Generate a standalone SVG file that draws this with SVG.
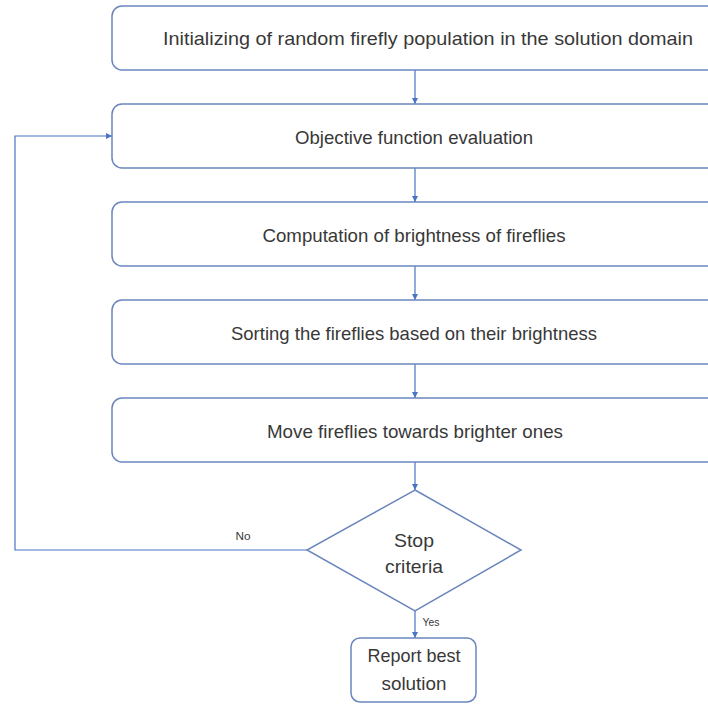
<svg xmlns="http://www.w3.org/2000/svg" width="708" height="704" viewBox="0 0 708 704">
<style>
.box{fill:#fff;stroke:#6a86bd;stroke-width:1.5}
.t{font-family:"Liberation Sans",Arial,sans-serif;font-size:19px;fill:#383838;text-anchor:middle}
.s{font-family:"Liberation Sans",Arial,sans-serif;font-size:11px;fill:#383838;text-anchor:middle}
.c{fill:none;stroke:#4a74c4;stroke-width:1.2}
</style>
<defs>
<marker id="ah" markerWidth="6" markerHeight="6" refX="6" refY="3" orient="auto" markerUnits="userSpaceOnUse">
<path d="M0,0 L6,3 L0,6 z" fill="#4a74c4"/>
</marker>
</defs>
<rect width="708" height="704" fill="#fff"/>
<g id="connectors">
<line class="c" x1="415" y1="70" x2="415" y2="104" marker-end="url(#ah)"/>
<line class="c" x1="415" y1="168" x2="415" y2="202" marker-end="url(#ah)"/>
<line class="c" x1="415" y1="266" x2="415" y2="300" marker-end="url(#ah)"/>
<line class="c" x1="415" y1="364" x2="415" y2="398" marker-end="url(#ah)"/>
<line class="c" x1="415" y1="462" x2="415" y2="490" marker-end="url(#ah)"/>
<line class="c" x1="415" y1="611" x2="415" y2="638" marker-end="url(#ah)"/>
<polyline class="c" points="307,550 15,550 15,136 112,136" marker-end="url(#ah)"/>
<text class="s" x="243" y="540" textLength="15" lengthAdjust="spacingAndGlyphs">No</text>
<text class="s" x="431" y="626" textLength="17" lengthAdjust="spacingAndGlyphs">Yes</text>
</g>
<g id="n1"><rect class="box" x="112" y="6" width="620" height="64" rx="10"/>
<text class="t" x="428" y="45" textLength="530" lengthAdjust="spacingAndGlyphs">Initializing of random firefly population in the solution domain</text></g>
<g id="n2"><rect class="box" x="112" y="104" width="620" height="64" rx="10"/>
<text class="t" x="414" y="144" textLength="238" lengthAdjust="spacingAndGlyphs">Objective function evaluation</text></g>
<g id="n3"><rect class="box" x="112" y="202" width="620" height="64" rx="10"/>
<text class="t" x="414" y="242" textLength="303" lengthAdjust="spacingAndGlyphs">Computation of brightness of fireflies</text></g>
<g id="n4"><rect class="box" x="112" y="300" width="620" height="64" rx="10"/>
<text class="t" x="414" y="340" textLength="366" lengthAdjust="spacingAndGlyphs">Sorting the fireflies based on their brightness</text></g>
<g id="n5"><rect class="box" x="112" y="398" width="620" height="64" rx="10"/>
<text class="t" x="415" y="438" textLength="296" lengthAdjust="spacingAndGlyphs">Move fireflies towards brighter ones</text></g>
<g id="n6"><polygon class="box" points="415,490 521,550 415,611 307,550"/>
<text class="t" x="414" y="547" textLength="40" lengthAdjust="spacingAndGlyphs">Stop</text>
<text class="t" x="414" y="573" textLength="58" lengthAdjust="spacingAndGlyphs">criteria</text></g>
<g id="n7"><rect class="box" x="351" y="638" width="125" height="64" rx="9"/>
<text class="t" x="414" y="662" textLength="93" lengthAdjust="spacingAndGlyphs">Report best</text>
<text class="t" x="414" y="690" textLength="65" lengthAdjust="spacingAndGlyphs">solution</text></g>
</svg>
